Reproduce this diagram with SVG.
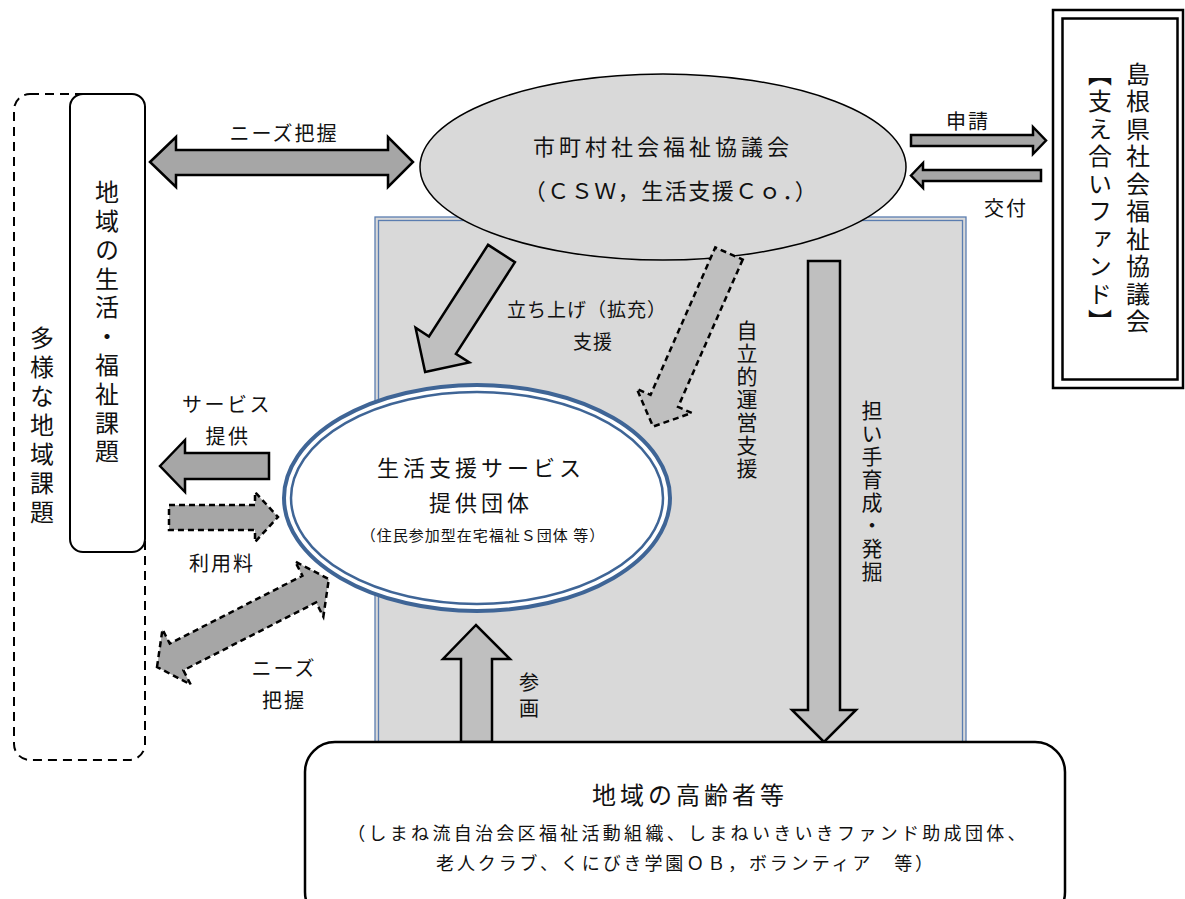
<svg xmlns="http://www.w3.org/2000/svg" width="1185" height="899" viewBox="0 0 1185 899">
<style>
text{font-family:"Noto Sans CJK JP","Noto Sans CJK SC",sans-serif;fill:#111;}
.c{text-anchor:middle;dominant-baseline:central;}
.v{writing-mode:vertical-rl;text-anchor:middle;}
.ad{fill:#a6a6a6;stroke:#000;stroke-width:2.5;stroke-linejoin:miter;}
.al{fill:#bfbfbf;stroke:#000;stroke-width:2.5;stroke-linejoin:miter;}
.dash{stroke-dasharray:6 4;}
.panel{fill:none;stroke:#5b7db0;stroke-width:1.3;}
</style>
<rect width="1185" height="899" fill="#fff"/>

<g id="panel">
<rect x="375" y="217" width="591" height="540" fill="#d9d9d9"/>
<rect class="panel" x="375" y="217" width="591" height="540"/>
<rect class="panel" x="378.5" y="220.5" width="584" height="533"/>
</g>

<g id="left-outer">
<rect x="14" y="94" width="131" height="666" rx="16" fill="none" stroke="#000" stroke-width="2" stroke-dasharray="9 6"/>
<text class="v" x="42" y="427" font-size="24" letter-spacing="5">多様な地域課題</text>
</g>
<g id="left-inner">
<rect x="70" y="94" width="75" height="458" rx="13" fill="#fff" stroke="#000" stroke-width="2"/>
<text class="v" x="107" y="324" font-size="24" letter-spacing="4.8">地域の生活・福祉課題</text>
</g>

<g id="csw">
<ellipse cx="663" cy="167" rx="243" ry="93" fill="#d9d9d9" stroke="#000" stroke-width="1.5"/>
<text class="c" x="663" y="145" font-size="22" letter-spacing="4">市町村社会福祉協議会</text>
<text class="c" x="671" y="189" font-size="22" letter-spacing="1.5">（ＣＳＷ，生活支援Ｃｏ．）</text>
</g>

<g id="shimane">
<rect x="1053" y="10" width="130" height="378" fill="#fff" stroke="#000" stroke-width="2.5"/>
<rect x="1062.5" y="18.5" width="115" height="361" fill="none" stroke="#000" stroke-width="2.5"/>
<text class="v" x="1138" y="199" font-size="24" letter-spacing="3.5">島根県社会福祉協議会</text>
<text class="v" x="1100" y="199" font-size="24" letter-spacing="3.5">【支え合いファンド】</text>
</g>

<g id="service">
<ellipse cx="477" cy="498" rx="193" ry="113" fill="#fff" stroke="#3f6596" stroke-width="4"/>
<ellipse cx="477" cy="498" rx="186" ry="106" fill="none" stroke="#3f6596" stroke-width="2.5"/>
<text class="c" x="481" y="466" font-size="22" letter-spacing="4">生活支援サービス</text>
<text class="c" x="481" y="501" font-size="22" letter-spacing="4">提供団体</text>
<text class="c" x="483" y="534" font-size="15" letter-spacing="1">（住民参加型在宅福祉Ｓ団体 等）</text>
</g>

<g id="connectors">
<path class="ad" d="M150,162 L176,137 L176,150 L388,150 L388,137 L413,162 L388,187 L388,175 L176,175 L176,187 Z"/>
<path class="ad" d="M911,135 L1033,135 L1033,127 L1046,140.5 L1033,154 L1033,146 L911,146 Z"/>
<path class="ad" d="M911,175.5 L923,163 L923,170 L1041,170 L1041,181 L923,181 L923,188 Z"/>
<path class="ad" d="M160,466 L185,440 L185,453 L269,453 L269,479 L185,479 L185,492 Z"/>
<path class="ad dash" d="M169,505 L255,505 L255,492 L278,517 L255,542 L255,530 L169,530 Z"/>
<path class="ad dash" transform="translate(157,667) rotate(-27.1)" d="M0,0 L22,-31 L22,-15 L171,-15 L171,-31 L193,0 L171,31 L171,15 L22,15 L22,31 Z"/>
<path class="al" transform="translate(501.5,253.5) rotate(122.8)" d="M0,-16 L109,-16 L109,-32 L141,0 L109,32 L109,16 L0,16 Z"/>
<path class="al dash" transform="translate(729,253.5) rotate(113.7)" d="M0,-15 L161,-15 L161,-30 L189,0 L161,30 L161,15 L0,15 Z"/>
<path class="al" d="M808,261 L840,261 L840,710 L856,710 L824,742 L792,710 L808,710 Z"/>
<path class="al" d="M461,742 L461,659 L443,659 L476,625 L510,659 L492,659 L492,742 Z"/>
<text class="c" x="284" y="132" font-size="20" letter-spacing="2">ニーズ把握</text>
<text class="c" x="968" y="120" font-size="20" letter-spacing="2">申請</text>
<text class="c" x="1006" y="207" font-size="20" letter-spacing="2">交付</text>
<text class="c" x="227" y="403" font-size="20" letter-spacing="2.5">サービス</text>
<text class="c" x="228" y="435" font-size="20" letter-spacing="2.5">提供</text>
<text class="c" x="222" y="562" font-size="20" letter-spacing="2">利用料</text>
<text class="c" x="284" y="667" font-size="20" letter-spacing="2">ニーズ</text>
<text class="c" x="284" y="699" font-size="20" letter-spacing="2">把握</text>
<text class="c" x="587" y="308" font-size="19" letter-spacing="1">立ち上げ（拡充）</text>
<text class="c" x="593" y="340" font-size="19" letter-spacing="1">支援</text>
<text class="v" x="747" y="400" font-size="21" letter-spacing="2">自立的運営支援</text>
<text class="v" x="872" y="492" font-size="21" letter-spacing="2">担い手育成・発掘</text>
<text class="v" x="529" y="698" font-size="20" letter-spacing="6">参画</text>
</g>

<g id="elderly">
<rect x="305" y="742" width="760" height="180" rx="30" fill="#fff" stroke="#000" stroke-width="2.5"/>
<text class="c" x="690" y="793" font-size="24" letter-spacing="4">地域の高齢者等</text>
<text class="c" x="688" y="832" font-size="18" letter-spacing="3.3">（しまね流自治会区福祉活動組織、しまねいきいきファンド助成団体、</text>
<text class="c" x="686" y="862" font-size="18" letter-spacing="2.9">老人クラブ、くにびき学園ＯＢ，ボランティア　等）</text>
</g>
</svg>
